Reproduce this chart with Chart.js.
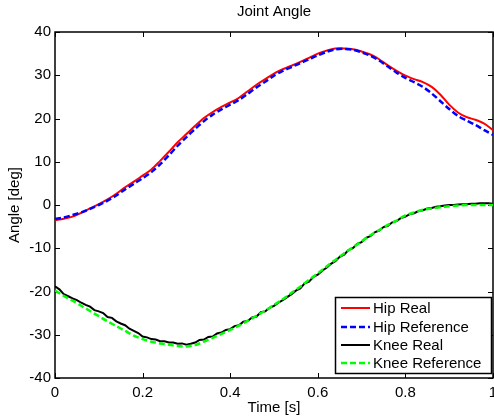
<!DOCTYPE html>
<html>
<head>
<meta charset="utf-8">
<script src="https://cdn.jsdelivr.net/npm/chart.js@4/dist/chart.umd.min.js"></script>
<style>
  html, body { margin: 0; padding: 0; background: #fff; }
  #wrap { width: 494px; height: 420px; }
</style>
</head>
<body>
<div id="wrap"><canvas id="angleChart" width="494" height="420"></canvas></div>
<script>
// ---------------- data ----------------
const timeCoarse = [
  0.00, 0.02, 0.04, 0.06, 0.08, 0.10, 0.12, 0.14, 0.16, 0.18,
  0.20, 0.22, 0.24, 0.26, 0.28, 0.30, 0.32, 0.34, 0.36, 0.38,
  0.40, 0.42, 0.44, 0.46, 0.48, 0.50, 0.52, 0.54, 0.56, 0.58,
  0.60, 0.62, 0.64, 0.66, 0.68, 0.70, 0.72, 0.74, 0.76, 0.78,
  0.80, 0.82, 0.84, 0.86, 0.88, 0.90, 0.92, 0.94, 0.96, 0.98, 1.00
];
const timeFine = [
  0.00, 0.01, 0.02, 0.03, 0.04, 0.05, 0.06, 0.07, 0.08, 0.09,
  0.10, 0.11, 0.12, 0.13, 0.14, 0.15, 0.16, 0.17, 0.18, 0.19,
  0.20, 0.21, 0.22, 0.23, 0.24, 0.25, 0.26, 0.27, 0.28, 0.29,
  0.30, 0.31, 0.32, 0.33, 0.34, 0.35, 0.36, 0.37, 0.38, 0.39,
  0.40, 0.41, 0.42, 0.43, 0.44, 0.45, 0.46, 0.47, 0.48, 0.49,
  0.50, 0.51, 0.52, 0.53, 0.54, 0.55, 0.56, 0.57, 0.58, 0.59,
  0.60, 0.61, 0.62, 0.63, 0.64, 0.65, 0.66, 0.67, 0.68, 0.69,
  0.70, 0.71, 0.72, 0.73, 0.74, 0.75, 0.76, 0.77, 0.78, 0.79,
  0.80, 0.81, 0.82, 0.83, 0.84, 0.85, 0.86, 0.87, 0.88, 0.89,
  0.90, 0.91, 0.92, 0.93, 0.94, 0.95, 0.96, 0.97, 0.98, 0.99, 1.00
];

const hipReal = [
  -3.5, -3.2, -2.7, -1.8, -0.8, 0.2, 1.3, 2.6, 4.1, 5.4,
  6.8, 8.2, 10.2, 12.3, 14.5, 16.4, 18.3, 20.1, 21.5, 22.7,
  23.7, 24.8, 26.3, 27.8, 29.1, 30.4, 31.4, 32.2, 33.1, 34.0,
  35.0, 35.7, 36.2, 36.2, 36.0, 35.5, 34.8, 33.7, 32.3, 31.0,
  29.9, 29.1, 28.4, 27.3, 25.5, 23.2, 21.4, 20.3, 19.7, 18.8, 17.3
];
const hipRef = [
  -3.2, -2.9, -2.3, -1.7, -0.9, 0.0, 1.0, 2.2, 3.6, 4.9,
  6.2, 7.6, 9.4, 11.5, 13.7, 15.7, 17.6, 19.4, 20.9, 22.1,
  23.2, 24.3, 25.7, 27.2, 28.5, 29.9, 31.0, 31.9, 32.8, 33.7,
  34.6, 35.4, 36.0, 36.1, 35.9, 35.3, 34.5, 33.4, 32.0, 30.6,
  29.4, 28.4, 27.3, 25.8, 24.0, 22.2, 20.6, 19.5, 18.5, 17.3, 16.2
];
// knee encoder signal, sampled finer (slightly noisy)
const kneeReal = [
  -18.8, -19.5, -20.6, -21.1, -21.6, -22.0, -22.6, -23.1, -23.5, -24.3,
  -24.6, -25.0, -25.9, -26.1, -26.9, -27.4, -27.8, -28.6, -29.1, -29.6,
  -30.4, -30.6, -31.0, -31.1, -31.5, -31.5, -31.8, -31.8, -32.1, -32.0,
  -32.3, -32.1, -31.8, -31.2, -31.1, -30.5, -30.4, -29.7, -29.5, -28.9,
  -28.7, -28.0, -27.8, -27.0, -26.8, -26.0, -25.8, -24.8, -24.6, -23.8,
  -23.3, -22.6, -22.0, -21.3, -20.6, -19.8, -19.3, -18.1, -17.7, -16.6,
  -16.1, -15.2, -14.5, -13.6, -13.0, -12.0, -11.5, -10.4, -10.0, -9.0,
  -8.6, -7.6, -7.2, -6.3, -5.9, -5.1, -4.8, -4.0, -3.7, -3.0,
  -2.7, -2.1, -1.9, -1.4, -1.2, -0.8, -0.7, -0.4, -0.3, -0.1,
  0.0, 0.0, 0.1, 0.2, 0.2, 0.3, 0.3, 0.4, 0.4, 0.4, 0.3
];
const kneeRef = [
  -19.8, -21.0, -22.1, -23.3, -24.5, -25.7, -26.9, -28.0, -29.1, -30.2,
  -31.0, -31.6, -32.0, -32.3, -32.6, -32.7, -32.4, -31.6, -30.7, -29.8,
  -28.9, -27.9, -26.8, -25.6, -24.4, -23.1, -21.8, -20.3, -18.9, -17.3,
  -15.8, -14.2, -12.7, -11.2, -9.8, -8.4, -7.0, -5.8, -4.6, -3.6,
  -2.4, -1.7, -1.1, -0.8, -0.5, -0.3, -0.1, 0.0, 0.0, 0.0, 0.0
];

const xTickLabels = ['0', '0.2', '0.4', '0.6', '0.8', '1'];
const yTickLabels = ['-40', '-30', '-20', '-10', '0', '10', '20', '30', '40'];
const seriesNames = ['Hip Real', 'Hip Reference', 'Knee Real', 'Knee Reference'];
const chartTitle = 'Joint Angle';

function pairUp(ts, vs) {
  return vs.map((v, i) => ({ x: ts[i], y: v }));
}

const FONT = '15px "Liberation Sans", Arial, sans-serif';

// ---------------- box, inward ticks, title and legend ----------------
const matlabAxes = {
  id: 'matlabAxes',
  beforeDatasetsDraw(chart) {
    const { ctx, chartArea: a, scales } = chart;
    ctx.save();
    ctx.strokeStyle = '#000';
    ctx.lineWidth = 1.5;
    ctx.strokeRect(a.left, a.top, a.right - a.left, a.bottom - a.top);
    ctx.lineWidth = 1;
    const len = 5;
    scales.x.ticks.forEach(t => {
      const px = Math.round(scales.x.getPixelForValue(t.value)) + 0.5;
      ctx.beginPath();
      ctx.moveTo(px, a.bottom); ctx.lineTo(px, a.bottom - len);
      ctx.moveTo(px, a.top); ctx.lineTo(px, a.top + len);
      ctx.stroke();
    });
    scales.y.ticks.forEach(t => {
      const py = Math.round(scales.y.getPixelForValue(t.value)) + 0.5;
      ctx.beginPath();
      ctx.moveTo(a.left, py); ctx.lineTo(a.left + len, py);
      ctx.moveTo(a.right, py); ctx.lineTo(a.right - len, py);
      ctx.stroke();
    });

    // title sits centred over the axes box, not the whole canvas
    ctx.font = FONT;
    ctx.fillStyle = '#000';
    ctx.textAlign = 'center';
    ctx.textBaseline = 'middle';
    ctx.fillText(chartTitle, (a.left + a.right) / 2, 12);
    ctx.restore();
  },
  afterDraw(chart) {
    const ctx = chart.ctx;
    const box = { x: 335.5, y: 297.5, w: 156, h: 76 };
    ctx.save();
    ctx.fillStyle = '#fff';
    ctx.fillRect(box.x, box.y, box.w, box.h);
    ctx.strokeStyle = '#000';
    ctx.lineWidth = 1.5;
    ctx.strokeRect(box.x, box.y, box.w, box.h);
    ctx.font = FONT;
    ctx.textBaseline = 'middle';
    ctx.fillStyle = '#000';
    const rows = [308, 327, 345, 363];
    seriesNames.forEach((name, i) => {
      const ds = chart.data.datasets.find(d => d.label === name);
      ctx.strokeStyle = ds.borderColor;
      ctx.lineWidth = ds.borderWidth;
      ctx.setLineDash(ds.borderDash || []);
      ctx.beginPath();
      ctx.moveTo(341, rows[i]);
      ctx.lineTo(370, rows[i]);
      ctx.stroke();
      ctx.setLineDash([]);
      ctx.fillText(name, 373, rows[i] + 1);
    });
    ctx.restore();
  }
};

Chart.defaults.font.family = '"Liberation Sans", Arial, sans-serif';
Chart.defaults.font.size = 15;
Chart.defaults.color = '#000';

new Chart(document.getElementById('angleChart'), {
  type: 'line',
  data: {
    datasets: [
      { label: 'Hip Real', data: pairUp(timeCoarse, hipReal), borderColor: '#ff0000', borderWidth: 2, order: 4 },
      { label: 'Hip Reference', data: pairUp(timeCoarse, hipRef), borderColor: '#0000ff', borderWidth: 2.5, borderDash: [6, 3], order: 3 },
      { label: 'Knee Real', data: pairUp(timeFine, kneeReal), borderColor: '#000000', borderWidth: 2, tension: 0, order: 2 },
      { label: 'Knee Reference', data: pairUp(timeCoarse, kneeRef), borderColor: '#00ff00', borderWidth: 2.5, borderDash: [6, 3], order: 1 }
    ]
  },
  options: {
    responsive: false,
    animation: false,
    events: [],
    layout: { padding: { top: 32, right: 1, bottom: 0, left: 0 } },
    elements: {
      point: { radius: 0 },
      line: { tension: 0.3, fill: false }
    },
    plugins: {
      legend: { display: false },
      tooltip: { enabled: false },
      title: { display: false }
    },
    scales: {
      x: {
        type: 'linear',
        min: 0,
        max: 1,
        grid: { display: false, drawTicks: false },
        border: { display: false },
        ticks: {
          stepSize: 0.2,
          padding: 6,
          maxRotation: 0,
          autoSkip: false,
          callback: (v, i) => xTickLabels[i]
        },
        title: { display: true, text: 'Time [s]', padding: { top: 0, bottom: 3 } },
        afterFit(scale) {
          scale.height = 42;
          scale.paddingLeft = 0;
          scale.paddingRight = 0;
        }
      },
      y: {
        min: -40,
        max: 40,
        grid: { display: false, drawTicks: false },
        border: { display: false },
        ticks: {
          stepSize: 10,
          padding: 4,
          autoSkip: false,
          callback: (v, i) => yTickLabels[i]
        },
        title: { display: true, text: 'Angle [deg]', padding: { top: 6, bottom: 0 } },
        afterFit(scale) {
          scale.width = 55;
          scale.paddingTop = 0;
          scale.paddingBottom = 0;
        }
      }
    }
  },
  plugins: [matlabAxes]
});
</script>
</body>
</html>
